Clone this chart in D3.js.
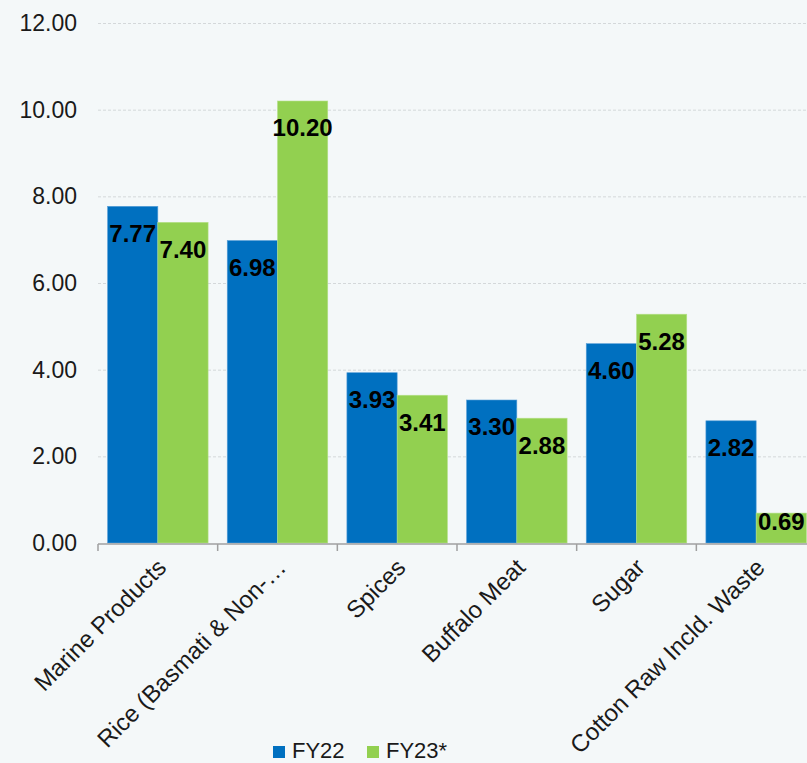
<!DOCTYPE html>
<html>
<head>
<meta charset="utf-8">
<script src="https://cdn.jsdelivr.net/npm/d3@7"></script>
<style>
  html, body { margin: 0; padding: 0; background: #f4f8f9; }
  svg { display: block; font-family: Arial, "Liberation Sans", sans-serif; }
</style>
</head>
<body>
<svg id="chart" width="807" height="763"></svg>
<script>
// Agricultural export categories (USD bn)
const categories = ["Marine Products", "Rice (Basmati & Non-\u2026", "Spices", "Buffalo Meat", "Sugar", "Cotton Raw Incld. Waste"];
const seriesNames = ["FY22", "FY23*"];
const fy22 = [7.77, 6.98, 3.93, 3.30, 4.60, 2.82];
const fy23 = [7.40, 10.20, 3.41, 2.88, 5.28, 0.69];
const yTicks = [0, 2, 4, 6, 8, 10, 12];
const colors = ["#0070c0", "#92d050"];

const svg = d3.select("#chart");
const W = 807, H = 763;
const plotLeft = 98, plotRight = 816, plotTop = 23, plotBottom = 543;

const x = d3.scaleBand().domain(categories).range([plotLeft, plotRight]).paddingInner(0.16).paddingOuter(0.08);
const x1 = d3.scaleBand().domain(seriesNames).range([0, x.bandwidth()]);
const y = d3.scaleLinear().domain([0, 12]).range([plotBottom, plotTop]);

// gridlines
svg.append("g")
  .selectAll("line").data(yTicks.filter(d => d > 0)).join("line")
  .attr("x1", plotLeft).attr("x2", W)
  .attr("y1", d => y(d) + 0.5).attr("y2", d => y(d) + 0.5)
  .attr("stroke", "#d4d8da").attr("stroke-width", 1).attr("stroke-dasharray", "3,2");

// y tick labels
svg.append("g")
  .selectAll("text").data(yTicks).join("text")
  .attr("x", 77).attr("y", d => y(d))
  .attr("dy", "0.35em").attr("text-anchor", "end")
  .attr("font-size", 23).attr("fill", "#1a1a1a")
  .text(d => d3.format(".2f")(d));

const rows = categories.map((c, i) => ({ cat: c, vals: [fy22[i], fy23[i]] }));

const groups = svg.append("g").selectAll("g").data(rows).join("g")
  .attr("transform", d => `translate(${x(d.cat)},0)`);

const bars = groups.selectAll("g.bar")
  .data(d => d.vals.map((v, j) => ({ key: seriesNames[j], v, j })))
  .join("g").attr("class", "bar");

bars.append("rect")
  .attr("x", d => x1(d.key))
  .attr("y", d => y(d.v))
  .attr("width", x1.bandwidth())
  .attr("height", d => y(0) - y(d.v))
  .attr("fill", d => colors[d.j])
  .attr("stroke", d => d.j === 0 ? "#5aa0d8" : "#b5e08a")
  .attr("stroke-width", 0.6);

bars.append("text")
  .attr("x", d => x1(d.key) + x1.bandwidth() / 2)
  .attr("y", d => Math.min(y(d.v) + 27, y(0) - 21))
  .attr("dy", "0.35em")
  .attr("text-anchor", "middle")
  .attr("font-size", 24).attr("font-weight", "bold").attr("fill", "#000")
  .text(d => d3.format(".2f")(d.v));

// x axis line and category boundary ticks
const axis = svg.append("g");
axis.append("line")
  .attr("x1", plotLeft).attr("x2", W)
  .attr("y1", plotBottom + 1).attr("y2", plotBottom + 1)
  .attr("stroke", "#a0a0a0").attr("stroke-width", 1.5);
const step = x.step();
const boundaries = d3.range(categories.length + 1).map(i => x(categories[0]) - x.paddingOuter() * step + i * step);
axis.selectAll("line.tick").data(boundaries).join("line")
  .attr("class", "tick")
  .attr("x1", d => d).attr("x2", d => d)
  .attr("y1", plotBottom + 1).attr("y2", plotBottom + 8)
  .attr("stroke", "#a0a0a0").attr("stroke-width", 1.5);

// rotated category labels
axis.selectAll("text").data(categories).join("text")
  .attr("transform", d => `translate(${x(d) + x.bandwidth() / 2 + 4},${plotBottom + 20}) rotate(-45)`)
  .attr("text-anchor", "end")
  .attr("dy", "0.35em")
  .attr("font-size", 24).attr("fill", "#1a1a1a")
  .text(d => d);

// legend
const legend = svg.append("g").attr("transform", "translate(273,746)");
const items = legend.selectAll("g").data(seriesNames).join("g")
  .attr("transform", (d, i) => `translate(${i * 94},0)`);
items.append("rect").attr("width", 12).attr("height", 12).attr("fill", (d, i) => colors[i]);
items.append("text").attr("x", 19).attr("y", 12)
  .attr("font-size", 22).attr("fill", "#1a1a1a").text(d => d);
</script>
</body>
</html>
